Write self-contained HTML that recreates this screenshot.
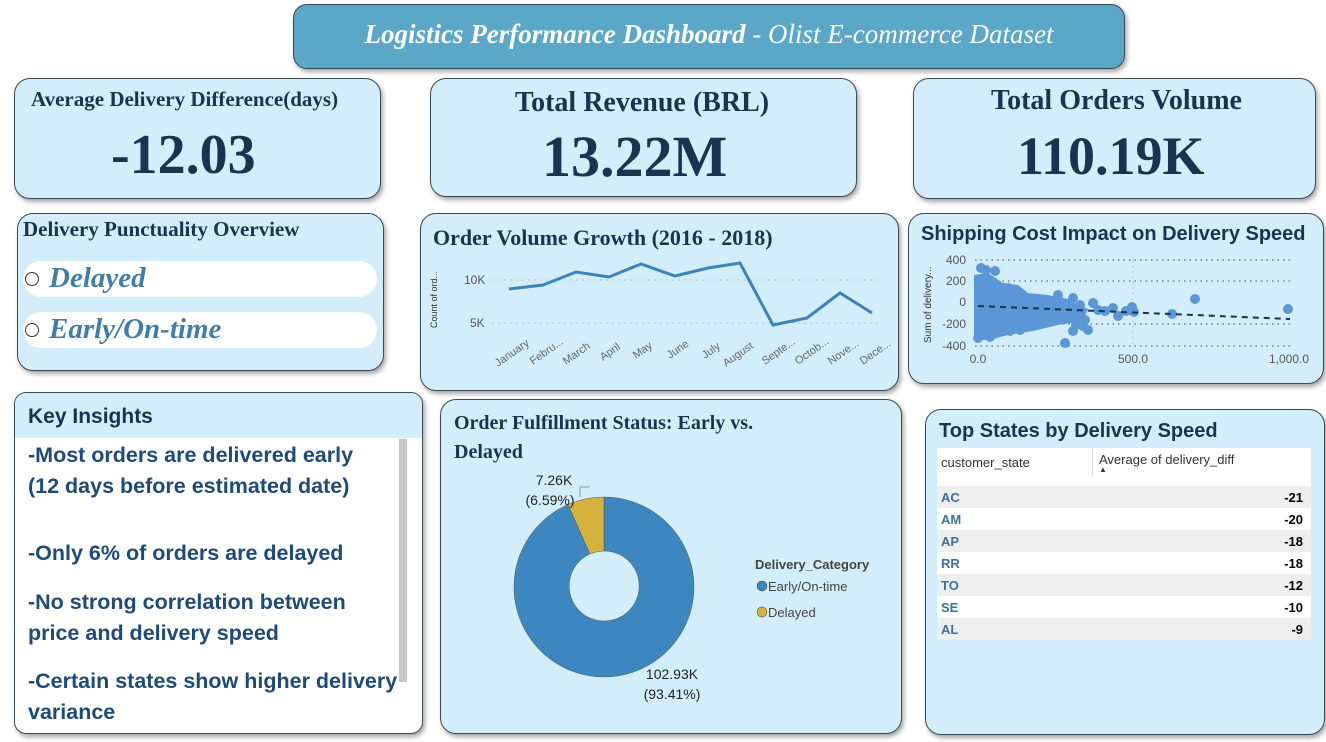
<!DOCTYPE html><html><head><style>
body{margin:0;width:1326px;height:742px;background:#fff;position:relative;overflow:hidden;font-family:"Liberation Sans",sans-serif}
.c{position:absolute;background:#d3eefa;border:1.5px solid #3a4a55;border-radius:16px;box-shadow:2px 3px 5px rgba(0,0,0,.35);box-sizing:border-box}
.ser{font-family:"Liberation Serif",serif;font-weight:bold;color:#1b3350}
.pill{position:absolute;left:5px;width:354px;height:36px;background:#fff;border-radius:18px}
.pill span{position:absolute;left:26px;top:1px;font:italic bold 29px "Liberation Serif",serif;color:#3f7dab}
.pill i{position:absolute;left:2px;top:11px;width:12px;height:12px;border:1.5px solid #333;border-radius:50%}
.ins{position:absolute;left:13px;color:#1d4a7a;font-weight:bold;font-size:21.5px;line-height:31px}
table{border-collapse:collapse;font-size:13px}
</style></head><body>
<div class="c" style="left:293px;top:4px;width:832px;height:65px;background:#5aa7c7;border-radius:14px"><div style="text-align:center;font:italic bold 27px 'Liberation Serif',serif;color:#fff;margin-top:14px">Logistics Performance Dashboard <span style="font-weight:normal">- Olist E-commerce Dataset</span></div></div>
<div class="c" style="left:14px;top:78px;width:367px;height:121px"><div class="ser" style="position:absolute;left:16px;top:8px;font-size:21px">Average Delivery Difference(days)</div><div class="ser" style="position:absolute;left:96px;top:44px;font-size:56px">-12.03</div></div>
<div class="c" style="left:430px;top:78px;width:427px;height:119px"><div class="ser" style="position:absolute;left:84px;top:8px;font-size:28px">Total Revenue (BRL)</div><div class="ser" style="position:absolute;left:111px;top:44px;font-size:58px">13.22M</div></div>
<div class="c" style="left:913px;top:78px;width:403px;height:121px"><div class="ser" style="position:absolute;left:77px;top:6px;font-size:28px">Total Orders Volume</div><div class="ser" style="position:absolute;left:103px;top:46px;font-size:54px">110.19K</div></div>
<div class="c" style="left:17px;top:213px;width:367px;height:158px"><div class="ser" style="position:absolute;left:5px;top:3px;font-size:21px">Delivery Punctuality Overview</div>
<div class="pill" style="top:47px"><i></i><span>Delayed</span></div><div class="pill" style="top:98px"><i></i><span>Early/On-time</span></div></div>
<div class="c" style="left:420px;top:213px;width:479px;height:178px"><div class="ser" style="position:absolute;left:12px;top:11px;font-size:22px">Order Volume Growth (2016 - 2018)</div>
<svg style="position:absolute;left:-1px;top:-1px" width="479" height="178"><g stroke="#9cb" stroke-dasharray="2 4"><line x1="72" y1="67" x2="460" y2="67"/><line x1="72" y1="110" x2="460" y2="110"/></g>
<g font-size="12" fill="#555"><text x="44" y="71">10K</text><text x="50" y="114">5K</text><text transform="translate(17,115) rotate(-90)" font-size="9" fill="#333">Count of ord...</text></g>
<polyline fill="none" stroke="#3b83bc" stroke-width="3" points="89,76 123,72 156,59 189,64 221,51 255,63 288,55 320,50 353,112 387,105 420,80 452,100"/>
<g font-size="11" fill="#666"><text transform="translate(78,154) rotate(-35)">January</text><text transform="translate(113,152) rotate(-35)">Febru...</text><text transform="translate(146,152) rotate(-35)">March</text><text transform="translate(183,148) rotate(-35)">April</text><text transform="translate(216,146) rotate(-35)">May</text><text transform="translate(250,146) rotate(-35)">June</text><text transform="translate(285,146) rotate(-35)">July</text><text transform="translate(306,154) rotate(-35)">August</text><text transform="translate(345,152) rotate(-35)">Septe...</text><text transform="translate(378,152) rotate(-35)">Octob...</text><text transform="translate(411,152) rotate(-35)">Nove...</text><text transform="translate(443,152) rotate(-35)">Dece...</text></g></svg></div>
<div class="c" style="left:908px;top:213px;width:416px;height:171px"><div style="position:absolute;left:12px;top:9px;font-size:20px;font-weight:bold;color:#1b3350">Shipping Cost Impact on Delivery Speed</div>
<svg style="position:absolute;left:-1px;top:-1px" width="416" height="171"><g stroke="#444" stroke-dasharray="1.5 4"><line x1="67" y1="47" x2="382" y2="47"/><line x1="67" y1="68" x2="382" y2="68"/><line x1="67" y1="111" x2="382" y2="111"/><line x1="67" y1="133" x2="382" y2="133"/></g>
<line x1="225" y1="47" x2="225" y2="133" stroke="#bbb" stroke-dasharray="1.5 4"/>
<g font-size="12" fill="#555" text-anchor="end"><text x="58" y="51">400</text><text x="58" y="72">200</text><text x="58" y="93">0</text><text x="58" y="115">-200</text><text x="58" y="137">-400</text></g>
<text transform="translate(23,130) rotate(-90)" font-size="10" fill="#333">Sum of delivery...</text>
<g font-size="12" fill="#555" text-anchor="middle"><text x="70" y="150">0.0</text><text x="225" y="150">500.0</text><text x="381" y="150">1,000.0</text></g>
<g fill="#5b96d6"><path d="M66,62 L80,60 L95,70 L110,72 L120,80 L140,82 L160,86 L170,92 L180,96 L175,108 L150,112 L125,118 L100,122 L85,126 L66,128Z"/>
<circle cx="73" cy="55" r="5"/><circle cx="78" cy="57" r="5"/><circle cx="87" cy="58" r="5"/><circle cx="70" cy="125" r="5"/><circle cx="82" cy="124" r="5"/><circle cx="100" cy="75" r="5"/><circle cx="102" cy="118" r="5"/><circle cx="112" cy="117" r="5"/><circle cx="150" cy="82" r="5"/><circle cx="165" cy="85" r="5"/><circle cx="172" cy="92" r="5"/><circle cx="185" cy="90" r="5"/><circle cx="190" cy="97" r="5"/><circle cx="197" cy="98" r="5"/><circle cx="177" cy="107" r="5"/><circle cx="168" cy="112" r="5"/><circle cx="157" cy="130" r="5"/><circle cx="175" cy="113" r="5"/><circle cx="180" cy="117" r="5"/><circle cx="205" cy="95" r="5"/><circle cx="210" cy="103" r="5"/><circle cx="218" cy="98" r="5"/><circle cx="224" cy="94" r="5"/><circle cx="226" cy="99" r="5"/><circle cx="264" cy="101" r="5"/><circle cx="287" cy="86" r="5"/><circle cx="380" cy="96" r="5"/><circle cx="165" cy="118" r="5"/><circle cx="140" cy="105" r="5"/><circle cx="120" cy="92" r="5"/></g>
<line x1="70" y1="93" x2="382" y2="106" stroke="#1b3350" stroke-width="2" stroke-dasharray="6 5"/></svg></div>
<div class="c" style="left:14px;top:392px;width:409px;height:342px;background:#fff;border-radius:12px;overflow:hidden"><div style="height:45px;background:#d3eefa;font-size:21px;font-weight:bold;color:#1b3350;padding:12px 0 0 13px;box-sizing:border-box">Key Insights</div>
<div style="position:absolute;left:384px;top:46px;width:8px;height:243px;background:#c8c8c8"></div>
<div class="ins" style="top:47px">-Most orders are delivered early<br>(12 days before estimated date)</div>
<div class="ins" style="top:145px">-Only 6% of orders are delayed</div>
<div class="ins" style="top:194px">-No strong correlation between<br>price and delivery speed</div>
<div class="ins" style="top:273px">-Certain states show higher delivery<br>variance</div></div>
<div class="c" style="left:440px;top:399px;width:462px;height:335px"><div class="ser" style="position:absolute;left:13px;top:9px;font-size:20px;line-height:29px">Order Fulfillment Status: Early vs.<br>Delayed</div>
<svg style="position:absolute;left:-1px;top:-1px" width="462" height="335"><path d="M164,98 A90,90 0 1 1 128,105.5 L150,155 A35,35 0 1 0 164,152Z" fill="#3d87c0" stroke="#555" stroke-width=".5"/><path d="M128,105.5 A90,90 0 0 1 164,98 L164,152 A35,35 0 0 0 150,155Z" fill="#d4b33d" stroke="#555" stroke-width=".5"/>
<polyline points="140,98 140,88 150,88" fill="none" stroke="#999"/>
<g font-size="14" fill="#222" text-anchor="middle"><text x="114" y="86">7.26K</text><text x="110" y="106">(6.59%)</text><text x="232" y="280">102.93K</text><text x="232" y="300">(93.41%)</text></g>
<text x="315" y="170" font-size="13" font-weight="bold" fill="#444">Delivery_Category</text>
<circle cx="322" cy="187" r="5" fill="#3d87c0" stroke="#333" stroke-width=".5"/><text x="328" y="192" font-size="13" fill="#444">Early/On-time</text>
<circle cx="322" cy="213" r="5" fill="#d4b33d" stroke="#333" stroke-width=".5"/><text x="328" y="218" font-size="13" fill="#444">Delayed</text></svg></div>
<div class="c" style="left:925px;top:409px;width:400px;height:326px"><div style="position:absolute;left:13px;top:10px;font-size:20px;font-weight:bold;color:#1b3350">Top States by Delivery Speed</div>
<table style="position:absolute;left:11px;top:38px;width:374px;background:#fff">
<tr style="height:28px;color:#333"><td style="padding-left:4px;width:150px;border-right:1px solid #ddd">customer_state</td><td style="padding-left:6px">Average of delivery_diff<div style="font-size:8px;line-height:6px">▲</div></td></tr>
<tr style="height:10px"><td></td><td></td></tr>
<tr style="height:22px;background:#eee;font-weight:bold"><td style="color:#3d6fa0;padding-left:4px">AC</td><td style="text-align:right;padding-right:8px">-21</td></tr>
<tr style="height:22px;font-weight:bold"><td style="color:#3d6fa0;padding-left:4px">AM</td><td style="text-align:right;padding-right:8px">-20</td></tr>
<tr style="height:22px;background:#eee;font-weight:bold"><td style="color:#3d6fa0;padding-left:4px">AP</td><td style="text-align:right;padding-right:8px">-18</td></tr>
<tr style="height:22px;font-weight:bold"><td style="color:#3d6fa0;padding-left:4px">RR</td><td style="text-align:right;padding-right:8px">-18</td></tr>
<tr style="height:22px;background:#eee;font-weight:bold"><td style="color:#3d6fa0;padding-left:4px">TO</td><td style="text-align:right;padding-right:8px">-12</td></tr>
<tr style="height:22px;font-weight:bold"><td style="color:#3d6fa0;padding-left:4px">SE</td><td style="text-align:right;padding-right:8px">-10</td></tr>
<tr style="height:22px;background:#eee;font-weight:bold"><td style="color:#3d6fa0;padding-left:4px">AL</td><td style="text-align:right;padding-right:8px">-9</td></tr>
</table></div>
</body></html>
